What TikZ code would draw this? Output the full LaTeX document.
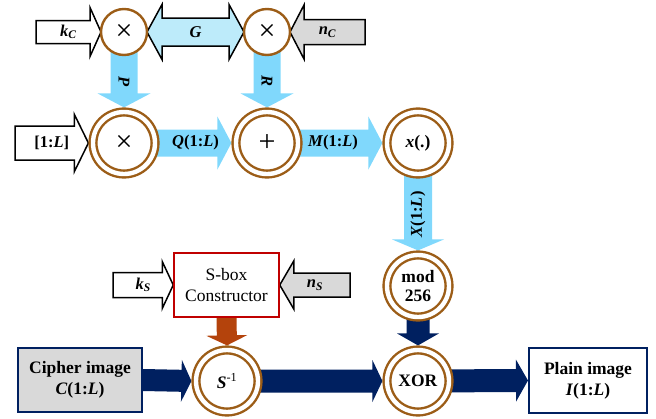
\documentclass[tikz,border=0pt]{standalone}
\usepackage{fontspec}
\setmainfont{Liberation Serif}
\usetikzlibrary{calc}
\pgfdeclarelayer{bg}
\pgfsetlayers{bg,main}
\definecolor{lblue}{HTML}{80D8FC}
\definecolor{pblue}{HTML}{BDEBFA}
\definecolor{lgrey}{HTML}{D9D9D9}
\definecolor{ringc}{HTML}{9C5D17}
\definecolor{navy}{HTML}{002060}
\definecolor{rust}{HTML}{B4430C}
\definecolor{boxred}{HTML}{C00000}
% block arrow: style, start, end, half body, half head, head length
\newcommand\barrow[6]{%
  \coordinate (ba-h) at ($(#3)!#6!(#2)$);
  \path[#1] ($(#2)!#4!90:(#3)$) -- ($(ba-h)!#4!-90:(#2)$) -- ($(ba-h)!#5!-90:(#2)$)
    -- (#3) -- ($(ba-h)!#5!90:(#2)$) -- ($(ba-h)!#4!90:(#2)$) -- ($(#2)!#4!-90:(#3)$) -- cycle;
}
\begin{document}
\begin{tikzpicture}[x=1pt,y=-1pt,
  txt/.style={font=\fontsize{17.5}{21}\selectfont, align=center, inner sep=0pt},
  lab/.style={font=\fontsize{16.5}{20}\selectfont, inner sep=0pt},
  opsym/.style={font=\fontsize{30}{32}\selectfont, inner sep=0pt},
  ring/.style={circle, draw=ringc, line width=2.4pt, fill=white, minimum size=46pt, inner sep=0pt, outer sep=0pt},
  dring/.style={circle, draw=ringc, line width=2.4pt, double=white, double distance=4.4pt, fill=white,
    minimum size=62pt, inner sep=0pt, outer sep=4.6pt, font=\fontsize{17.5}{21}\selectfont, align=center},
  warrow/.style={draw=black, line width=1.5pt, fill=white, line join=miter},
  garrow/.style={draw=black, line width=1.5pt, fill=lgrey, line join=miter},
  parrow/.style={draw=black, line width=1.5pt, fill=pblue, line join=miter},
  barrowst/.style={fill=lblue},
  narrow/.style={fill=navy},
  rarrow/.style={fill=rust}]
\useasboundingbox (0,0) rectangle (656,418);

% nodes
\node[ring] (c1) at (124,32) {};
\node[opsym] (c1t) at (c1.center) {×};
\node[ring] (c2) at (267,32) {};
\node[opsym] (c2t) at (c2.center) {×};
\node[dring] (d1) at (124,143) {};
\node[opsym] (d1t) at (d1.center) {×};
\node[dring] (d2) at (267,143) {};
\node[opsym] (d2t) at (d2.center) {+};
\node[dring] (d3) at (418,143) {\textbf{\textit{x}(.)}};
\node[dring] (mod) at (418,286) {\textbf{mod}\\[-2pt]\textbf{256}};
\node[dring] (xor) at (418,381) {\textbf{XOR}};
\node[dring] (sinv) at (227,381) {\textbf{\textit{S}}\textsuperscript{-1}};
\node[txt, draw=navy, line width=2pt, fill=lgrey, minimum width=124pt, minimum height=64pt] (cipher) at (80,380)
  {\textbf{Cipher image}\\\textbf{\textit{C}(1:\textit{L})}};
\node[txt, draw=navy, line width=2pt, fill=white, minimum width=118pt, minimum height=65pt] (plain) at (588,380.5)
  {\textbf{Plain image}\\\textbf{\textit{I}(1:\textit{L})}};
\node[txt, draw=boxred, line width=1.5pt, fill=white, minimum width=105pt, minimum height=64pt] (sbox) at (226.5,285)
  {S-box\\Constructor};

\coordinate (kc0) at (36,32);
\coordinate (nc0) at (365,32);
\coordinate (l0) at (15,143);
\coordinate (ks0) at (113,285);
\coordinate (ns0) at (350,285);

\begin{pgfonlayer}{bg}
  \barrow{warrow}{kc0}{c1.west}{11.5pt}{24.5pt}{11pt}
  \barrow{garrow}{nc0}{c2.east}{12.5pt}{27pt}{14pt}
  % double arrow G
  \coordinate (g1) at ($(c1.east)!15pt!(c2.west)$);
  \coordinate (g2) at ($(c2.west)!15pt!(c1.east)$);
  \path[parrow] (c1.east) -- ($(g1)!27.5pt!90:(c2.west)$) -- ($(g1)!14pt!90:(c2.west)$)
    -- ($(g2)!14pt!-90:(c1.east)$) -- ($(g2)!27.5pt!-90:(c1.east)$) -- (c2.west)
    -- ($(g2)!27.5pt!90:(c1.east)$) -- ($(g2)!14pt!90:(c1.east)$)
    -- ($(g1)!14pt!-90:(c2.west)$) -- ($(g1)!27.5pt!-90:(c2.west)$) -- cycle;
  \barrow{barrowst}{c1.center}{d1.north}{13.5pt}{26.5pt}{14pt}
  \barrow{barrowst}{c2.center}{d2.north}{13.5pt}{26.5pt}{14pt}
  \barrow{warrow}{l0}{d1.west}{17pt}{28.5pt}{14pt}
  \barrow{barrowst}{d1.center}{d2.west}{13.5pt}{26.5pt}{14pt}
  \barrow{barrowst}{d2.center}{d3.west}{13.5pt}{26.5pt}{14pt}
  \barrow{barrowst}{d3.center}{mod.north}{14pt}{26pt}{11pt}
  \barrow{narrow}{mod.center}{xor.north}{11.5pt}{21pt}{12pt}
  \barrow{narrow}{cipher.east}{sinv.west}{11pt}{21pt}{10pt}
  \barrow{narrow}{sinv.center}{xor.west}{11.5pt}{21pt}{10pt}
  \barrow{narrow}{xor.center}{plain.west}{11.5pt}{21pt}{12pt}
  \barrow{warrow}{ks0}{sbox.west}{12.5pt}{23.5pt}{11pt}
  \barrow{garrow}{ns0}{sbox.east}{12pt}{24pt}{14pt}
  \barrow{rarrow}{sbox.south}{sinv.north}{10pt}{20.5pt}{10pt}
\end{pgfonlayer}

% labels
\node[lab] (lkc) at ($(kc0)!0.5!(c1.west)$) {\textbf{\textit{k}\textsubscript{\textit{C}}}};
\node[lab] (lg) at ($(c1.east)!0.5!(c2.west)$) {\textbf{\textit{G}}};
\node[lab] (lnc) at ($(nc0)!0.5!(c2.east)$) {\textbf{\textit{n}\textsubscript{\textit{C}}}};
\node[lab, rotate=-90] (lp) at ($(c1.south)!0.5!(d1.north)$) {\textbf{\textit{P}}};
\node[lab, rotate=-90] (lr) at ($(c2.south)!0.5!(d2.north)$) {\textbf{\textit{R}}};
\node[lab] (ll) at ($(l0)!0.5!(d1.west)$) {\textbf{[1:\textit{L}]}};
\node[lab] (lq) at ($(d1.east)!0.5!(d2.west)$) {\textbf{\textit{Q}(1:\textit{L})}};
\node[lab] (lm) at (333,143) {\textbf{\textit{M}(1:\textit{L})}};
\node[lab, rotate=90] (lx) at ($(d3.south)!0.5!(mod.north)$) {\textbf{\textit{X}(1:\textit{L})}};
\node[lab] (lks) at ($(ks0)!0.5!(sbox.west)$) {\textbf{\textit{k}\textsubscript{\textit{S}}}};
\node[lab] (lns) at ($(ns0)!0.5!(sbox.east)$) {\textbf{\textit{n}\textsubscript{\textit{S}}}};
\end{tikzpicture}
\end{document}
